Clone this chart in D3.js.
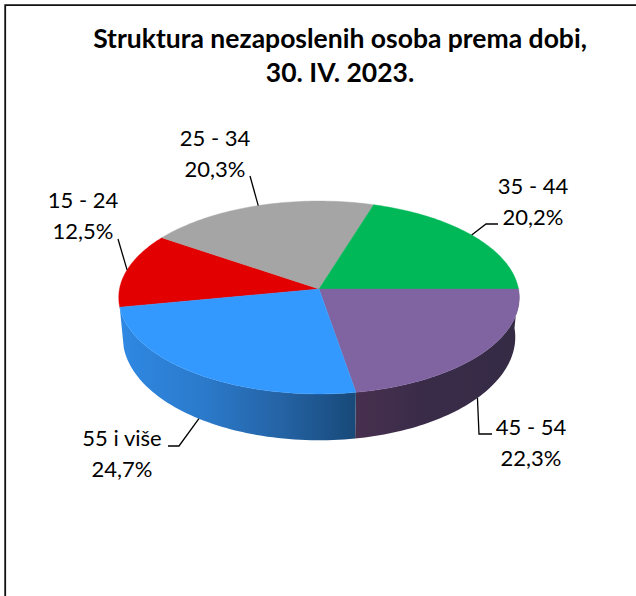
<!DOCTYPE html>
<html>
<head>
<meta charset="utf-8">
<script src="https://cdn.jsdelivr.net/npm/d3@7/dist/d3.min.js"></script>
<style>
    html, body { margin: 0; padding: 0; background: #fff; }
    svg { display: block; }
    text { font-family: Lato, "Open Sans", sans-serif; fill: #000; }
</style>
</head>
<body>
<svg id="pie-chart" width="636" height="596"></svg>
<script>
// chart data
var categories = ["15 - 24", "25 - 34", "35 - 44", "45 - 54", "55 i više"];
var shares = [12.5, 20.3, 20.2, 22.3, 24.7];
var titleLines = ["Struktura nezaposlenih osoba prema dobi,", "30. IV. 2023."];

var topColors = ["#e30000", "#a5a5a5", "#00b858", "#8064a2", "#3399ff"];

// label placement: centre x, first baseline, then the leader elbow and end
var labelLayout = [
    { x: 83, y: 208, path: [[118, 239]] },
    { x: 215, y: 146, path: [[250, 176]] },
    { x: 533, y: 194, path: [[486, 224], [498, 224]] },
    { x: 531, y: 435, path: [[479, 434], [492, 434]] },
    { x: 122, y: 446, path: [[179, 446], [168, 446]] }
];

var svg = d3.select("#pie-chart");

// the frame is cut off on the right and at the bottom
svg.append("path")
    .attr("d", "M5.2,596V5.2H636")
    .attr("fill", "none")
    .attr("stroke", "#111")
    .attr("stroke-width", 1.8);

svg.selectAll(".title")
    .data(titleLines)
    .enter()
    .append("text")
    .attr("class", "title")
    .attr("x", 340)
    .attr("y", function (d, i) { return 48 + i * 34; })
    .attr("text-anchor", "middle")
    .attr("font-size", 26.5)
    .attr("font-weight", 700)
    .text(function (d) { return d; });

// Pie angles. 35 - 44 has to end at 3 o'clock.
var before = d3.sum(shares.slice(0, 3));
var start = Math.PI / 2 - 2 * Math.PI * before / d3.sum(shares);
var pie = d3.pie()
    .sort(null)
    .startAngle(start)
    .endAngle(start + 2 * Math.PI);
var arcs = pie(shares);

// perspective projection of the tilted disc
var cx = 319, cy = 289, radius = 199.5, tilt = 95.7, k = 0.088;
var wallDrop = 39, wallScaleX = 0.98, wallScaleY = 1.07;

function project(a) {
    var X = Math.sin(a), Z = Math.cos(a), w = 1 + k * Z;
    return [cx + radius * X / w, cy - tilt * Z / w];
}

function projectBase(a) {
    var p = project(a);
    return [cx + (p[0] - cx) * wallScaleX, cy + wallDrop + (p[1] - cy) * wallScaleY];
}

function sampleAngles(a0, a1) {
    return d3.range(0, 61).map(function (i) { return a0 + (a1 - a0) * i / 60; });
}

var line = d3.line();

// gradients for the side wall
var defs = svg.append("defs");

function addGradient(id, x1, x2, stops) {
    var g = defs.append("linearGradient")
        .attr("id", id)
        .attr("gradientUnits", "userSpaceOnUse")
        .attr("x1", x1).attr("x2", x2)
        .attr("y1", 0).attr("y2", 0);
    stops.forEach(function (s) {
        g.append("stop").attr("offset", s[0]).attr("stop-color", s[1]);
    });
}

addGradient("wall-blue", 122, 354, [[0, "#2f88e2"], [0.35, "#2b7acb"], [0.7, "#2462a3"], [1, "#184a7a"]]);
addGradient("wall-purple", 354, 519, [[0, "#48304f"], [0.4, "#3a2c49"], [1, "#352b45"]]);

// only the two front slices show a wall
[{ i: 3, fill: "url(#wall-purple)" }, { i: 4, fill: "url(#wall-blue)" }].forEach(function (w) {
    var angles = sampleAngles(arcs[w.i].startAngle, arcs[w.i].endAngle);
    var pts = angles.map(project).concat(angles.slice().reverse().map(projectBase));
    svg.append("path")
        .attr("d", line(pts) + "Z")
        .attr("fill", w.fill);
});

// top of the pie
svg.selectAll(".slice")
    .data(arcs)
    .enter()
    .append("path")
    .attr("class", "slice")
    .attr("fill", function (d, i) { return topColors[i]; })
    .attr("stroke", function (d, i) { return topColors[i]; })
    .attr("stroke-width", 0.4)
    .attr("d", function (d) {
        return line([[cx, cy]].concat(sampleAngles(d.startAngle, d.endAngle).map(project))) + "Z";
    });

// leader lines start on the rim at the middle of the slice
svg.selectAll(".leader")
    .data(arcs)
    .enter()
    .append("path")
    .attr("class", "leader")
    .attr("fill", "none")
    .attr("stroke", "#000")
    .attr("stroke-width", 1.3)
    .attr("d", function (d, i) {
        var mid = (d.startAngle + d.endAngle) / 2;
        var front = Math.cos(mid) < 0;
        var first = front ? projectBase(mid) : project(mid);
        return line([first].concat(labelLayout[i].path));
    });

var labels = svg.selectAll(".label")
    .data(arcs)
    .enter()
    .append("text")
    .attr("class", "label")
    .attr("text-anchor", "middle")
    .attr("font-size", 22);

labels.append("tspan")
    .attr("x", function (d, i) { return labelLayout[i].x; })
    .attr("y", function (d, i) { return labelLayout[i].y; })
    .text(function (d, i) { return categories[i]; });

labels.append("tspan")
    .attr("x", function (d, i) { return labelLayout[i].x; })
    .attr("y", function (d, i) { return labelLayout[i].y + 30.5; })
    .text(function (d, i) { return d3.format(".1f")(shares[i]).replace(".", ",") + "%"; });
</script>
</body>
</html>
